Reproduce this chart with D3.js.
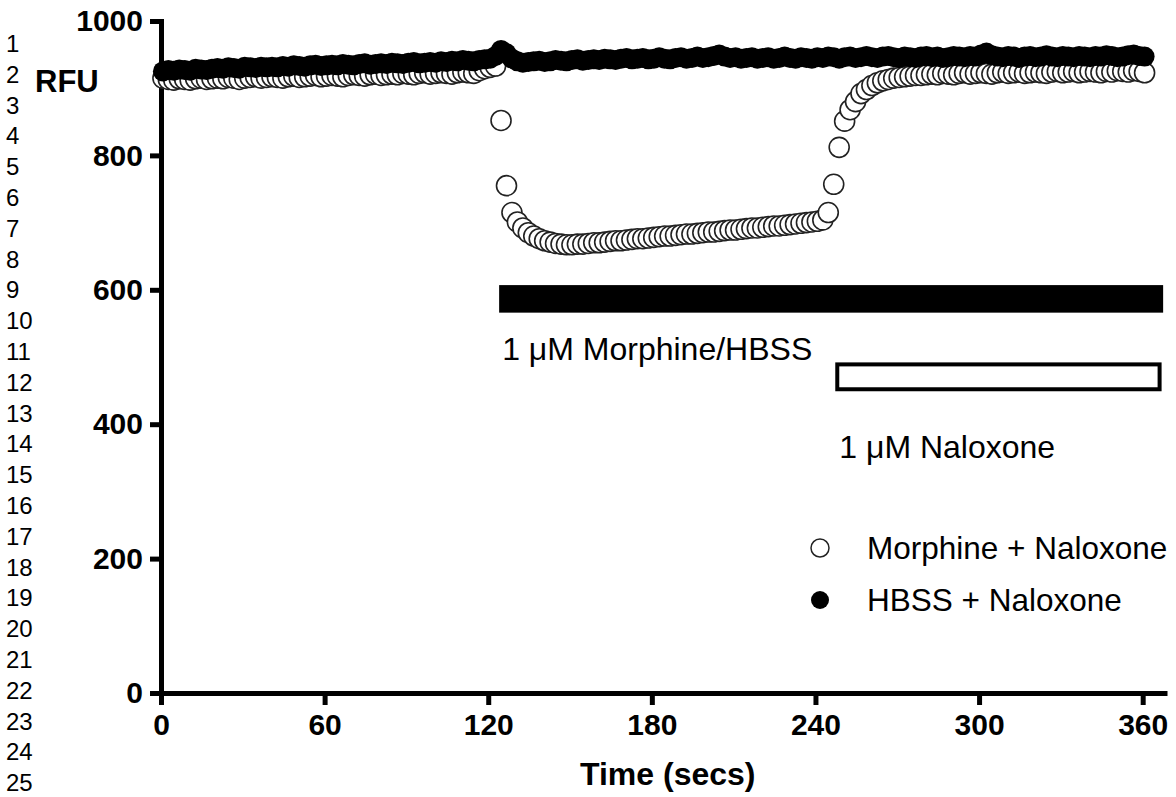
<!DOCTYPE html>
<html>
<head>
<meta charset="utf-8">
<script src="https://cdn.jsdelivr.net/npm/d3@7"></script>
<style>
  html, body { margin: 0; padding: 0; background: #fff; }
  svg { display: block; }
</style>
</head>
<body>
<svg id="chart" width="1176" height="797"></svg>
<script>
// ---------------- DATA ----------------
const startTime = 0.7;      // first sample (secs)
const sampleStep = 2;       // sampling interval (secs)

// Morphine + Naloxone (open circles), RFU
const morphineNaloxone = [
  915, 913, 912, 914, 913, 912, 914, 915, 913, 914,
  915, 914, 916, 915, 913, 915, 916, 917, 915, 916,
  917, 916, 915, 917, 918, 916, 917, 918, 919, 917,
  918, 919, 918, 917, 919, 920, 919, 918, 920, 921,
  919, 920, 921, 920, 922, 921, 920, 922, 923, 921,
  922, 923, 922, 921, 923, 924, 923, 922, 926, 929,
  931, 933,
  852, 755, 715, 701, 692, 685, 680, 676, 673, 671,
  669, 668, 667, 667, 668, 668, 669, 670, 670, 671,
  672, 673, 673, 674, 675, 676, 676, 677, 678, 679,
  680, 680, 681, 682, 683, 683, 684, 685, 686, 686,
  687, 688, 689, 689, 690, 691, 692, 692, 693, 694,
  695, 695, 696, 697, 698, 699, 700, 701, 702, 704,
  715, 757, 812, 851, 868, 880, 892, 898, 904, 908,
  911, 913, 915, 916, 917, 918, 919, 919,
  920, 921, 920, 922, 921, 920, 922, 923, 921, 922,
  923, 922, 921, 923, 924, 922, 923, 924, 922, 923,
  924, 923, 922, 924, 925, 923, 924, 925, 923, 924,
  925, 924, 923, 925, 924, 926, 925, 924, 926, 925, 923
];

// HBSS + Naloxone (filled circles), RFU
const hbssNaloxone = [
  925, 927, 926, 928, 927, 926, 929, 928, 927, 929,
  930, 929, 931, 930, 929, 932, 931, 930, 932, 931,
  932, 931, 933, 932, 934, 933, 932, 934, 935, 933,
  934, 935, 934, 936, 935, 934, 936, 937, 935, 936,
  937, 936, 938, 937, 936, 938, 939, 937, 938, 939,
  938, 940, 939, 941, 940, 942, 941, 940, 942, 943,
  944, 948,
  957, 952, 944, 940, 938, 939, 940,
  941, 939, 940, 942, 941, 940, 942, 943, 941, 942, 943,
  942, 944, 943, 942, 944, 945, 943, 944, 945, 943,
  944, 946, 944, 943, 945, 946, 944, 945, 947, 945,
  946, 948, 950, 947, 945, 946, 944, 945, 946, 944,
  945, 946, 944, 945, 947, 945, 944, 946, 945, 944,
  946, 945, 947, 946, 944, 946, 947, 945, 946, 948,
  946, 945, 947, 948, 946, 945, 947, 946, 945, 947,
  948, 946, 947, 945, 946, 948, 947, 946, 948, 947,
  950, 953, 949, 947, 946, 948, 947, 945, 947, 948,
  946, 947, 949, 947, 946, 948, 947, 946, 948, 947,
  946, 948, 947, 949, 948, 946, 947, 949, 950, 948, 947
];

const xTicks = [0, 60, 120, 180, 240, 300, 360];
const yTicks = [0, 200, 400, 600, 800, 1000];
const xTitle = "Time (secs)";
const yTitle = "RFU";
const seriesNames = ["Morphine + Naloxone", "HBSS + Naloxone"];
const rowNumbers = d3.range(1, 26);

// treatment bars: [start secs, end secs, low RFU, high RFU]
const morphineBar = { label: "1 μM Morphine/HBSS", x0: 124, x1: 367.5, y0: 566, y1: 607 };
const naloxoneBar = { label: "1 μM Naloxone", x0: 248, x1: 366.2, y0: 452, y1: 489 };

// ---------------- CHART ----------------
const FONT = "Arial, 'Liberation Sans', Helvetica, sans-serif";
const svg = d3.select("#chart");

const x = d3.scaleLinear().domain([0, 368]).range([161, 1164.5]);
const y = d3.scaleLinear().domain([0, 1000]).range([693, 21]);

const timeOf = i => startTime + i * sampleStep;

// row numbers on the far left
svg.append("g").selectAll("text").data(rowNumbers).join("text")
  .attr("x", 6)
  .attr("y", (d, i) => 52 + i * 30.8)
  .attr("font-family", FONT).attr("font-size", 24).attr("fill", "#000")
  .text(d => d);

// y axis
const yAxis = svg.append("g").attr("transform", `translate(${x(0)},0)`)
  .call(d3.axisLeft(y).tickValues(yTicks).tickFormat(d3.format("d"))
    .tickSize(11).tickSizeOuter(0).tickPadding(7));
// x axis
const xAxis = svg.append("g").attr("transform", `translate(0,${y(0)})`)
  .call(d3.axisBottom(x).tickValues(xTicks).tickFormat(d3.format("d"))
    .tickSize(12).tickSizeOuter(0).tickPadding(9));

[yAxis, xAxis].forEach(g => {
  g.select(".domain").attr("stroke", "#000").attr("stroke-width", 5).attr("stroke-linecap", "square");
  g.selectAll(".tick line").attr("stroke", "#000").attr("stroke-width", 5);
  g.selectAll(".tick text").attr("font-family", FONT).attr("font-size", 30)
    .attr("font-weight", "bold").attr("fill", "#000");
});

// axis titles
svg.append("text").attr("x", 35).attr("y", 92)
  .attr("font-family", FONT).attr("font-size", 31).attr("font-weight", "bold")
  .text(yTitle);
svg.append("text").attr("x", (x(0) + x(368)) / 2 + 5).attr("y", 785)
  .attr("text-anchor", "middle")
  .attr("font-family", FONT).attr("font-size", 32).attr("font-weight", "bold")
  .text(xTitle);

// treatment bars
svg.append("rect")
  .attr("x", x(morphineBar.x0)).attr("y", y(morphineBar.y1))
  .attr("width", x(morphineBar.x1) - x(morphineBar.x0))
  .attr("height", y(morphineBar.y0) - y(morphineBar.y1))
  .attr("fill", "#000");
svg.append("text").attr("x", x(morphineBar.x0) + 3).attr("y", y(morphineBar.y0) + 47)
  .attr("font-family", FONT).attr("font-size", 32).text(morphineBar.label);

svg.append("rect")
  .attr("x", x(naloxoneBar.x0)).attr("y", y(naloxoneBar.y1))
  .attr("width", x(naloxoneBar.x1) - x(naloxoneBar.x0))
  .attr("height", y(naloxoneBar.y0) - y(naloxoneBar.y1))
  .attr("fill", "#fff").attr("stroke", "#000").attr("stroke-width", 4);
svg.append("text").attr("x", x(naloxoneBar.x0) + 2).attr("y", y(naloxoneBar.y0) + 69)
  .attr("font-family", FONT).attr("font-size", 32).text(naloxoneBar.label);

// data points
const R = 10;
svg.append("g").selectAll("circle").data(morphineNaloxone).join("circle")
  .attr("cx", (d, i) => x(timeOf(i))).attr("cy", d => y(d)).attr("r", R)
  .attr("fill", "#fff").attr("stroke", "#222").attr("stroke-width", 1.6);
svg.append("g").selectAll("circle").data(hbssNaloxone).join("circle")
  .attr("cx", (d, i) => x(timeOf(i))).attr("cy", d => y(d)).attr("r", R)
  .attr("fill", "#000");

// legend
const legend = svg.append("g");
const legendRows = [
  { name: seriesNames[0], fill: "#fff", stroke: "#222", cy: 548 },
  { name: seriesNames[1], fill: "#000", stroke: "none", cy: 600 }
];
legend.selectAll("circle").data(legendRows).join("circle")
  .attr("cx", 820).attr("cy", d => d.cy).attr("r", 9)
  .attr("fill", d => d.fill).attr("stroke", d => d.stroke).attr("stroke-width", 1.5);
legend.selectAll("text").data(legendRows).join("text")
  .attr("x", 867).attr("y", d => d.cy + 11)
  .attr("font-family", FONT).attr("font-size", 31.5).text(d => d.name);
</script>
</body>
</html>
